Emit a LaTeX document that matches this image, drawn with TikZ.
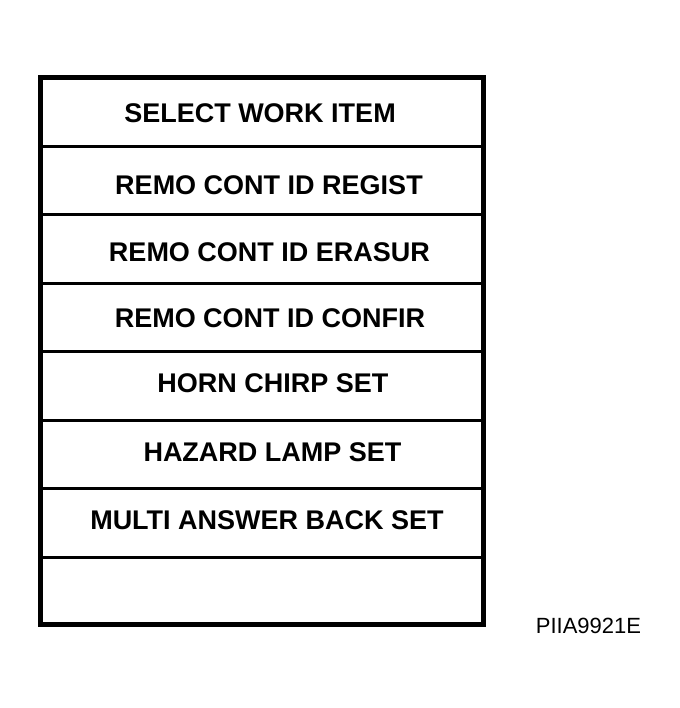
\documentclass[tikz,border=0pt]{standalone}
\usepackage{fontspec}
\setmainfont{Liberation Sans}

\tikzset{
  itemText/.style={font=\fontsize{27}{32}\selectfont\bfseries, inner sep=0pt, anchor=center},
  codeText/.style={font=\fontsize{22}{26}\selectfont, inner sep=0pt, anchor=center},
  rowLine/.style={line width=3pt},
}

\begin{document}
\begin{tikzpicture}[x=1pt,y=-1pt]
\useasboundingbox (0,0) rectangle (679,708);

\node (menuRect) [rectangle, draw=black, line width=5pt, anchor=north west, outer sep=0pt, inner sep=0pt, minimum width=443pt, minimum height=546.5pt] at (40,78) {};

% row separators
\foreach \y [count=\i] in {146.5,214.5,283.5,351.5,420,488.5,557.5} {
  \coordinate (sepL\i) at (menuRect.west |- 0,\y);
  \coordinate (sepR\i) at (menuRect.east |- 0,\y);
  \draw[rowLine] (sepL\i) -- (sepR\i);
}

\node (selectItem) [itemText] at (260,113) {SELECT WORK ITEM};
\node (registItem) [itemText] at (269,185) {REMO CONT ID REGIST};
\node (erasurItem) [itemText] at (269.5,252) {REMO CONT ID ERASUR};
\node (confirItem) [itemText] at (270,318) {REMO CONT ID CONFIR};
\node (hornItem) [itemText] at (273,383) {HORN CHIRP SET};
\node (hazardItem) [itemText] at (272.5,452) {HAZARD LAMP SET};
\node (answerItem) [itemText] at (267,520) {MULTI ANSWER BACK SET};

\node (figCode) [codeText] at (588.5,625.5) {PIIA9921E};

\end{tikzpicture}
\end{document}
